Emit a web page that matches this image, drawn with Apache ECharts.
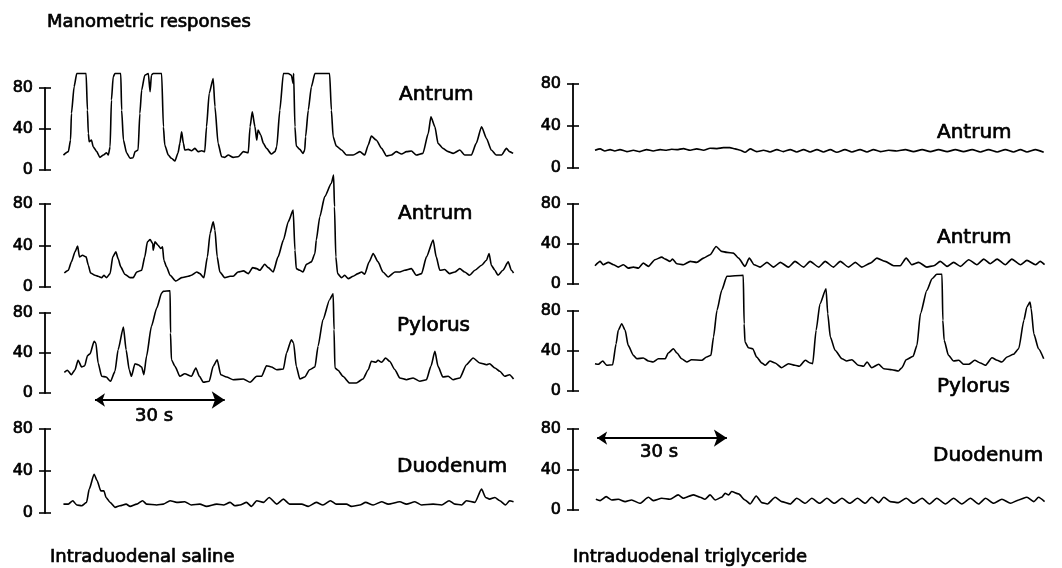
<!DOCTYPE html>
<html>
<head>
<meta charset="utf-8">
<script src="https://cdn.jsdelivr.net/npm/echarts@6/dist/echarts.min.js"></script>
<style>
html,body{margin:0;padding:0;background:#fff;}
#chart{width:1062px;height:568px;}
</style>
</head>
<body>
<div id="chart"></div>
<script>
// ---- data: [time (s), pressure (mmHg)] ----
const yTicks = [0, 40, 80];
const panelNames = ['Antrum', 'Antrum', 'Pylorus', 'Duodenum'];
const conditionNames = ['Intraduodenal saline', 'Intraduodenal triglyceride'];
const scaleLabel = '30 s';

const salineAntrumA = [[0.1,14.6],[1.2,17.9],[1.7,29.2],[1.9,55.2],[2.5,81.2],[3.1,94.2],[5.2,94.2],[5.5,58.4],[5.7,35.7],[5.9,27.6],[6.4,29.2],[6.8,22.7],[7.6,17.9],[8.3,12.3],[9.1,14.6],[9.8,16.9],[10.2,14.6],[10.6,22.7],[10.9,68.2],[11.3,90.9],[11.7,94.2],[13.0,94.2],[13.2,58.4],[13.6,29.2],[14.3,16.9],[15.1,11.4],[15.8,12.0],[16.2,17.9],[16.9,19.5],[17.3,55.2],[17.7,77.9],[18.4,92.5],[19.2,94.2],[19.6,76.3],[19.9,92.5],[20.3,94.2],[22.2,94.2],[22.6,42.2],[22.9,24.4],[23.7,14.6],[24.4,11.4],[25.2,8.8],[25.9,16.9],[26.3,26.0],[26.7,37.3],[27.1,26.0],[27.4,19.5],[28.2,20.1],[28.9,18.8],[29.7,21.1],[30.4,17.9],[31.2,18.8],[31.9,17.9],[32.3,42.2],[32.9,74.7],[33.8,89.3],[34.2,61.7],[34.9,26.0],[35.7,13.0],[36.4,12.3],[37.2,14.6],[38.3,12.3],[39.4,13.0],[40.6,17.9],[41.7,16.9],[42.1,42.2],[42.6,56.8],[43.2,42.2],[43.6,29.2],[43.9,39.0],[44.5,34.1],[45.1,26.0],[45.8,21.1],[46.9,15.6],[47.7,17.9],[48.1,22.7],[48.8,58.4],[49.6,94.2],[50.7,94.2],[51.4,92.5],[51.8,84.4],[51.9,94.2],[52.2,42.2],[52.5,23.4],[53.3,20.1],[54.0,16.2],[54.4,19.5],[54.6,32.5],[55.2,58.4],[55.9,81.2],[56.7,94.2],[60.0,94.2],[60.4,58.4],[60.8,32.5],[61.5,23.4],[62.7,19.5],[63.8,14.6],[65.3,14.6],[66.8,17.9],[67.9,14.6],[68.7,24.4],[69.4,33.1],[70.5,29.2],[71.7,21.1],[72.8,13.6],[73.9,14.6],[75.0,17.9],[76.2,15.6],[77.3,17.9],[78.4,18.5],[79.5,14.6],[81.0,16.2],[82.2,35.7],[82.8,51.9],[83.7,42.2],[84.4,26.0],[85.5,21.1],[86.7,17.9],[87.8,16.2],[89.3,19.5],[90.4,14.6],[91.9,14.6],[93.0,26.0],[94.2,42.2],[95.3,30.8],[96.4,19.5],[97.5,14.6],[98.7,14.6],[99.8,21.1],[100.5,17.9],[101.3,16.2]];

const salineAntrumB = [[0.3,13.5],[1.2,16.1],[1.9,24.2],[2.7,33.9],[3.3,39.4],[3.7,29.0],[4.4,30.6],[5.2,29.0],[5.7,21.0],[6.2,13.5],[7.2,11.3],[7.9,10.3],[8.7,9.0],[9.2,11.3],[9.8,9.0],[10.6,12.9],[11.2,29.0],[11.9,33.9],[12.4,27.4],[13.0,19.4],[13.9,12.3],[15.1,9.0],[15.8,9.0],[16.6,14.5],[17.7,16.1],[18.4,29.0],[19.0,43.5],[19.6,45.8],[20.2,41.9],[20.3,35.5],[20.7,43.5],[21.4,40.3],[22.0,37.1],[22.4,38.7],[22.7,25.8],[23.3,19.4],[24.1,11.3],[25.4,5.8],[26.7,9.0],[28.2,10.3],[28.9,11.3],[30.1,14.5],[30.8,12.9],[31.7,9.0],[32.5,29.0],[33.1,51.6],[33.8,62.9],[34.2,54.8],[34.7,29.0],[35.3,14.5],[36.4,9.0],[37.6,10.3],[38.3,10.3],[39.4,14.5],[40.6,15.5],[41.7,12.9],[42.7,18.7],[43.6,17.7],[44.3,16.1],[45.4,21.9],[46.2,18.7],[47.3,14.5],[48.4,29.0],[49.6,45.2],[50.7,62.9],[51.8,74.2],[52.2,35.5],[52.5,17.7],[53.3,16.1],[54.0,14.5],[54.8,21.9],[55.9,24.2],[56.7,32.3],[57.0,45.2],[57.8,67.7],[58.9,87.1],[60.4,100],[60.9,108],[61.1,77.4],[61.4,29.0],[61.8,12.9],[62.7,9.0],[63.4,11.3],[64.2,8.1],[65.3,10.3],[66.4,12.9],[67.2,14.5],[67.9,12.3],[68.9,24.2],[69.8,32.3],[70.9,24.2],[72.0,14.5],[73.2,9.7],[74.7,14.5],[75.8,14.5],[76.9,16.1],[78.4,17.7],[79.5,11.3],[80.7,12.9],[81.8,29.0],[83.3,45.2],[84.0,29.0],[84.8,16.1],[85.9,16.8],[87.0,12.9],[88.2,14.5],[89.3,17.7],[90.4,14.5],[91.5,11.3],[92.7,16.1],[94.2,21.0],[95.3,25.8],[95.9,32.3],[96.4,21.0],[97.2,16.1],[97.9,11.3],[99.0,16.1],[100.2,24.2],[100.9,16.1],[101.4,13.5]];

const salinePylorus = [[0.3,20.7],[1.0,22.7],[1.9,18.3],[2.7,23.3],[3.4,32.7],[4.2,26.0],[4.9,27.3],[5.5,37.3],[6.1,39.3],[7.0,51.7],[7.4,50.0],[7.9,30.0],[8.7,16.7],[9.7,16.0],[10.7,11.7],[11.7,21.7],[12.4,43.3],[13.6,66.0],[14.2,43.3],[14.9,23.3],[15.4,16.7],[16.2,29.3],[16.9,28.3],[17.7,26.0],[18.2,18.3],[18.8,36.7],[19.9,66.7],[21.1,85.0],[22.2,100],[22.6,101.7],[24.1,102.3],[24.2,60],[24.4,33.3],[25.2,26.7],[26.3,16.7],[27.4,19.3],[28.9,16.7],[29.9,25.0],[30.7,16.7],[31.6,10.7],[32.9,11.7],[33.8,26.7],[34.7,33.3],[35.5,18.3],[36.8,16.0],[38.3,13.3],[40.6,14.0],[42.1,10.7],[43.6,16.7],[44.7,16.7],[45.8,27.3],[46.9,26.0],[48.1,23.3],[49.6,24.0],[50.3,40.0],[51.4,53.3],[51.9,50.0],[52.5,26.7],[53.3,14.0],[54.4,16.0],[55.5,23.3],[56.7,26.0],[57.4,46.7],[58.5,73.3],[60.0,93.3],[60.8,99.3],[61.0,63.3],[61.2,25.0],[61.9,22.7],[63.0,16.7],[64.5,10.0],[66.0,10.0],[67.5,14.0],[68.7,23.3],[69.4,31.7],[70.4,30.7],[70.9,32.7],[71.7,30.7],[72.6,35.0],[73.5,31.7],[74.7,23.3],[75.8,15.0],[77.3,13.3],[78.8,15.0],[80.3,11.7],[81.8,13.3],[82.8,26.7],[83.7,41.7],[84.4,26.7],[85.5,16.0],[86.7,16.7],[87.8,13.3],[89.3,15.0],[90.8,28.3],[92.3,35.0],[93.8,30.0],[95.3,28.3],[96.0,29.3],[97.2,25.0],[98.3,21.7],[99.4,16.7],[100.5,18.3],[101.4,14.0]];

const salineDuodenum = [[0.1,8.5],[1.2,8.5],[2.2,11.7],[3.1,7.6],[4.2,6.9],[5.3,10.1],[5.9,22.7],[7.0,36.9],[7.7,30.6],[8.5,21.1],[9.2,21.1],[9.7,14.8],[10.6,10.1],[11.7,5.4],[12.8,6.9],[14.2,8.5],[15.1,6.3],[16.6,8.5],[17.9,11.7],[18.8,8.5],[21.1,7.6],[22.6,8.5],[24.1,11.7],[25.6,10.1],[27.4,10.7],[28.9,7.6],[30.8,8.5],[32.3,6.3],[34.6,8.5],[36.1,7.6],[37.6,10.1],[38.7,6.9],[39.8,7.6],[41.3,10.1],[42.4,6.3],[43.6,11.7],[45.1,10.1],[46.4,14.8],[48.1,8.5],[49.6,13.2],[51.0,8.5],[53.7,8.5],[55.2,6.3],[57.0,10.1],[58.5,7.6],[60.2,11.7],[61.5,8.5],[63.8,8.5],[64.9,6.3],[66.8,7.6],[68.1,10.1],[69.8,7.6],[71.7,10.7],[73.2,8.5],[75.8,10.7],[77.3,8.5],[79.2,10.7],[80.7,7.6],[83.3,8.5],[85.2,7.6],[86.9,11.7],[88.2,8.5],[89.7,7.6],[90.8,11.7],[92.7,10.1],[94.2,22.7],[95.1,14.8],[96.0,13.2],[97.2,14.8],[98.3,11.7],[99.6,7.6],[100.5,11.7],[101.4,10.7]];

const trigAntrumA = [[0,16.9],[1.2,18.2],[2.3,16.2],[3.5,17.5],[4.6,16.2],[5.8,17.5],[7.4,15.6],[8.9,16.9],[10.4,15.6],[12.0,17.5],[13.5,16.2],[15.1,17.5],[16.6,16.9],[17.8,17.8],[19.0,17.5],[20.5,18.5],[22.1,16.9],[23.6,18.2],[25.2,16.9],[26.7,18.8],[28.3,18.5],[29.8,19.4],[31.3,19.4],[32.5,18.2],[33.7,16.9],[34.8,15.0],[36.0,18.2],[37.5,15.6],[39.1,16.9],[40.6,15.3],[42.2,17.5],[43.7,15.6],[45.3,17.5],[46.8,15.3],[48.4,17.5],[49.9,15.3],[51.5,17.5],[53.0,15.3],[54.6,17.5],[56.1,15.0],[58.0,17.5],[59.6,15.3],[61.5,17.5],[63.1,15.3],[64.6,17.5],[66.2,15.6],[68.1,16.9],[70.0,16.2],[72.0,17.5],[73.9,15.6],[75.9,17.5],[77.8,15.6],[79.7,17.5],[81.7,15.6],[83.6,17.5],[85.5,15.6],[87.5,17.5],[89.4,15.3],[91.3,17.5],[93.3,15.3],[95.2,17.5],[97.1,15.3],[98.7,17.5],[100.2,15.3],[102.2,17.5],[104.1,15.0]];

const trigAntrumB = [[0,18.3],[1.2,22.6],[1.9,19.3],[3.1,21.6],[4.3,19.3],[5.4,16.9],[6.6,19.3],[7.7,15.9],[8.9,16.9],[10.1,15.9],[11.2,20.9],[12.4,17.6],[13.9,24.3],[15.5,26.9],[16.3,24.9],[17.4,22.6],[18.0,24.9],[19.0,20.3],[20.5,19.3],[22.1,22.6],[23.6,21.6],[25.2,25.9],[26.7,29.2],[28.1,37.5],[29.4,32.6],[30.6,31.6],[32.1,30.9],[33.3,25.9],[34.8,17.6],[35.8,25.9],[36.9,19.3],[38.3,16.9],[39.9,21.6],[41.4,16.9],[43.0,21.6],[44.9,16.9],[46.4,22.6],[48.4,16.9],[49.9,22.6],[51.9,16.9],[53.4,22.6],[55.3,16.9],[56.9,22.6],[58.8,16.9],[60.4,21.6],[61.9,16.9],[63.9,20.9],[65.4,25.9],[67.3,22.6],[69.3,18.3],[70.8,18.3],[72.2,25.9],[73.5,19.3],[75.1,21.6],[77.0,16.9],[78.6,18.3],[80.1,22.6],[81.7,17.6],[83.2,21.6],[84.8,17.6],[86.7,24.3],[88.6,19.3],[90.2,24.9],[91.7,20.3],[93.3,24.9],[95.2,19.3],[96.7,24.9],[98.7,19.3],[100.2,23.6],[102.2,19.3],[103.3,22.6],[104.3,19.3]];

const trigPylorus = [[0,27.3],[0.8,26.7],[1.8,30.0],[2.7,25.7],[4.1,26.3],[4.9,47.3],[5.4,60.7],[6.2,67.3],[7.0,60.7],[7.7,45.7],[8.9,35.7],[9.7,32.3],[11.2,33.0],[12.4,30.0],[13.5,29.0],[14.7,32.3],[16.3,32.3],[17.0,38.0],[18.2,42.3],[19.0,38.0],[20.1,32.3],[21.3,29.0],[22.4,31.3],[24.8,30.7],[25.9,34.0],[26.9,35.7],[27.5,54.0],[28.3,80.7],[29.4,100.7],[30.6,114.7],[34.4,115.7],[34.6,67.3],[34.8,49.0],[35.6,43.3],[36.6,42.3],[37.5,34.0],[38.7,28.0],[39.5,25.7],[40.6,30.0],[41.8,28.0],[43.3,23.3],[44.9,27.3],[46.4,25.7],[47.4,24.7],[48.8,30.7],[49.9,28.0],[50.5,27.3],[51.3,60.7],[52.2,87.3],[53.6,102.3],[54.0,77.3],[54.6,54.0],[55.7,40.7],[57.3,32.3],[58.4,30.0],[59.6,31.3],[61.1,25.7],[62.3,24.7],[63.1,29.0],[64.2,23.3],[65.8,26.7],[67.0,22.3],[68.9,21.3],[70.4,20.0],[71.2,23.3],[72.2,31.3],[73.8,34.7],[74.7,45.7],[75.5,77.3],[77.0,100.7],[78.2,112.3],[79.3,116.7],[80.5,116.7],[80.7,70.7],[81.0,50.7],[82.0,35.7],[83.2,30.0],[84.4,30.7],[85.5,26.7],[86.7,26.7],[88.1,30.7],[89.4,28.0],[90.6,25.7],[92.1,33.3],[93.3,30.7],[94.4,29.0],[95.6,34.0],[97.1,36.7],[98.3,42.3],[99.5,70.7],[100.2,84.0],[100.9,89.0],[101.2,82.3],[101.8,57.3],[102.9,42.3],[104.1,32.3]];

const trigDuodenum = [[0.2,10.6],[1.2,9.3],[2.6,13.2],[3.9,9.9],[5.4,10.6],[7.0,8.3],[8.5,9.9],[10.4,6.6],[12.4,12.6],[13.5,9.3],[15.5,11.6],[17.4,10.6],[19.3,14.9],[20.5,11.6],[22.8,14.9],[24.4,12.6],[25.5,10.6],[26.7,14.9],[27.9,9.9],[29.4,12.6],[30.2,16.5],[31.0,14.9],[31.7,18.2],[33.3,15.9],[34.8,9.9],[36.0,6.0],[37.4,13.9],[38.7,7.3],[40.0,6.0],[41.8,12.6],[43.3,8.3],[45.3,6.0],[46.8,11.6],[48.8,6.6],[50.3,11.6],[52.1,6.6],[53.8,11.6],[55.5,6.6],[57.3,11.6],[59.1,6.6],[60.9,11.6],[62.7,6.6],[64.2,12.6],[65.8,7.3],[67.0,12.6],[68.5,8.3],[70.4,7.3],[72.2,11.6],[73.9,6.6],[75.9,11.6],[77.6,6.0],[79.3,11.6],[81.3,6.0],[83.2,11.6],[85.1,6.0],[87.1,11.6],[89.0,6.0],[90.6,11.6],[92.5,6.6],[94.4,10.6],[96.4,6.6],[98.3,9.9],[100.2,12.6],[101.8,8.3],[102.9,12.6],[104.3,8.3]];

// 30-second scale bars [time, pressure] in the panel they sit in
const salineScaleBar = [[7.2,-7],[36.4,-7]];
const trigScaleBar = [[0.5,71],[30.6,71]];

// ---- layout ----
const INK = '#000';
const FONT = '"DejaVu Sans", Verdana, sans-serif';
const EMBOLDEN = 0.7;
const panels = [
  {data: salineAntrumA, left: 45, width: 469, top: 88, height: 82, xmin: -4.05, xmax: 101.5, name: 0, lx: 399, ly: 95},
  {data: salineAntrumB, left: 45, width: 469, top: 204, height: 83, xmin: -4.05, xmax: 101.5, name: 1, lx: 398, ly: 214},
  {data: salinePylorus, left: 45, width: 469, top: 313, height: 80, xmin: -4.05, xmax: 101.5, name: 2, lx: 397, ly: 326},
  {data: salineDuodenum, left: 45, width: 469, top: 429, height: 84, xmin: -4.05, xmax: 101.5, name: 3, lx: 397, ly: 467},
  {data: trigAntrumA, left: 573, width: 472, top: 84, height: 84, xmin: -5.1, xmax: 104.4, name: 0, lx: 937, ly: 133},
  {data: trigAntrumB, left: 573, width: 472, top: 204, height: 80, xmin: -5.1, xmax: 104.4, name: 1, lx: 937, ly: 238},
  {data: trigPylorus, left: 573, width: 472, top: 311, height: 80, xmin: -5.1, xmax: 104.4, name: 2, lx: 937, ly: 387},
  {data: trigDuodenum, left: 573, width: 472, top: 429, height: 81, xmin: -5.1, xmax: 104.4, name: 3, lx: 933, ly: 456}
];

function textEl(x, y, text, size) {
  return {type: 'text', x: x, y: y, style: {text: text, font: size + 'px ' + FONT, fill: INK, stroke: INK, lineWidth: EMBOLDEN, verticalAlign: 'middle', align: 'left'}};
}

const grid = [], xAxis = [], yAxis = [], series = [], graphic = [];
panels.forEach((p, i) => {
  grid.push({left: p.left, top: p.top, width: p.width, height: p.height, containLabel: false});
  xAxis.push({type: 'value', gridIndex: i, min: p.xmin, max: p.xmax, show: false});
  // outer ticks + labels
  yAxis.push({
    type: 'value', gridIndex: i, min: yTicks[0], max: yTicks[yTicks.length - 1], interval: 40,
    position: 'left',
    axisLine: {show: true, onZero: false, lineStyle: {color: INK, width: 1.8}},
    axisTick: {show: true, length: 6, lineStyle: {color: INK, width: 1.6}},
    axisLabel: {show: true, color: INK, fontSize: 16, fontFamily: FONT, margin: 12, textBorderColor: INK, textBorderWidth: EMBOLDEN},
    splitLine: {show: false}
  });
  // inner ticks (ticks cross the axis)
  yAxis.push({
    type: 'value', gridIndex: i, min: yTicks[0], max: yTicks[yTicks.length - 1], interval: 40,
    position: 'left',
    axisLine: {show: false, onZero: false},
    axisTick: {show: true, inside: true, length: 6, lineStyle: {color: INK, width: 1.6}},
    axisLabel: {show: false},
    splitLine: {show: false}
  });
  series.push({
    type: 'line', xAxisIndex: i, yAxisIndex: 2 * i, data: p.data,
    showSymbol: false, symbol: 'none', clip: false, smooth: 0.2, smoothMonotone: 'x',
    lineStyle: {color: INK, width: 1.6}, silent: true, animation: false
  });
  graphic.push(textEl(p.lx, p.ly, panelNames[p.name], 20));
});

function scaleBarSeries(bar, idx) {
  return {
    type: 'lines', coordinateSystem: 'cartesian2d', xAxisIndex: idx, yAxisIndex: 2 * idx,
    clip: false, silent: true, animation: false,
    symbol: ['arrow', 'arrow'], symbolSize: [10, 13],
    lineStyle: {color: INK, width: 2, opacity: 1},
    data: [{coords: bar}]
  };
}
series.push(scaleBarSeries(salineScaleBar, 2));
series.push(scaleBarSeries(trigScaleBar, 7));

graphic.push(textEl(47, 22, 'Manometric responses', 18));
graphic.push(textEl(50, 557, conditionNames[0], 18));
graphic.push(textEl(573, 557, conditionNames[1], 18));
graphic.push(textEl(135, 416, scaleLabel, 18));
graphic.push(textEl(640, 452, scaleLabel, 18));

const chart = echarts.init(document.getElementById('chart'), null, {renderer: 'canvas'});
chart.setOption({
  animation: false,
  backgroundColor: '#fff',
  grid, xAxis, yAxis, series, graphic
});
</script>
</body>
</html>
